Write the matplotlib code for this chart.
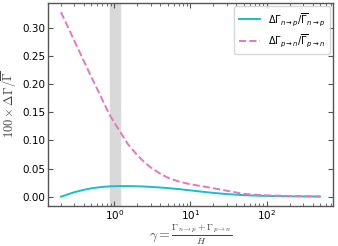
import matplotlib
matplotlib.use("Agg")
import matplotlib.pyplot as plt

# ── Data ───────────────────────────────────────────────────────────────────────
gamma = [0.2, 0.3, 0.4, 0.5, 0.6, 0.7, 0.85, 1.0, 1.2, 1.5, 2.0, 2.5, 3.0, 4.0,
         5.0, 7.0, 10, 15, 20, 30, 50, 70, 100, 200, 500]
dg_np = [0.0, 0.008, 0.0122, 0.0148, 0.0163, 0.0173, 0.0182, 0.0186, 0.0188,
         0.0188, 0.0185, 0.0180, 0.0174, 0.0163, 0.0153, 0.0135, 0.0112, 0.0085,
         0.0067, 0.0046, 0.0027, 0.0019, 0.0013, 0.0006, 0.0002]
dg_pn = [0.328, 0.277, 0.241, 0.213, 0.191, 0.172, 0.148, 0.132, 0.115, 0.094,
         0.074, 0.061, 0.052, 0.041, 0.034, 0.027, 0.022, 0.018, 0.0150, 0.0105,
         0.0050, 0.0035, 0.0024, 0.0012, 0.0005]
band = (0.87, 1.18)

CYAN = "#17becf"
PINK = "#e377c2"
SPINE = "#555555"

fig = plt.figure(figsize=(3.38, 2.46), dpi=100)
ax = fig.add_axes([0.142, 0.163, 0.843, 0.825])

ax.axvspan(band[0], band[1], color="#d9d9d9", zorder=0)
ax.plot(gamma, dg_np, color=CYAN, lw=1.4,
        label=r"$\Delta\Gamma_{n\to p}/\overline{\Gamma}_{n\to p}$")
ax.plot(gamma, dg_pn, color=PINK, lw=1.4, ls="--",
        label=r"$\Delta\Gamma_{p\to n}/\overline{\Gamma}_{p\to n}$")
ax.set_xscale("log")

ax.set_yticks([0.0, 0.05, 0.10, 0.15, 0.20, 0.25, 0.30])
ax.tick_params(which="both", direction="in", top=True, right=True,
               labelsize=7.5, color=SPINE, pad=2)
ax.tick_params(which="major", length=3.5)
ax.tick_params(which="minor", length=2)
for s in ax.spines.values():
    s.set_color(SPINE)
    s.set_linewidth(1.0)

ax.set_ylabel(r"$100 \times \Delta\Gamma/\overline{\Gamma}$", fontsize=9,
              color="#444444", math_fontfamily="cm", labelpad=2)
ax.set_xlabel(r"$\gamma = \frac{\Gamma_{n\to p}+\Gamma_{p\to n}}{H}$", fontsize=10,
              color="#444444", math_fontfamily="cm", labelpad=0)

ax.legend(loc="upper right", fontsize=7, handlelength=2.2, borderpad=0.5,
          labelspacing=0.5, borderaxespad=0.3)

fig.savefig("out.png", dpi=100)
